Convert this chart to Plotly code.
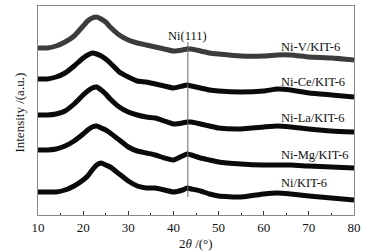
import plotly.graph_objects as go

two_theta = [10, 12, 14, 16, 18, 20, 21, 22, 23, 24, 25, 26, 28, 30, 32, 34, 36, 38,
             40, 42, 43, 44, 46, 48, 50, 55, 60, 63, 66, 70, 75, 80]

ni_v = [167, 167, 169, 173, 179, 189, 194, 197, 198, 196, 193, 188, 180, 175, 172, 170, 168, 166,
        164, 165, 166, 166, 164, 162, 161, 159, 159, 160, 160, 158, 157, 155]
ni_ce = [136, 136, 138, 142, 149, 157, 160, 162, 161, 159, 156, 152, 143, 138, 134, 133, 131, 129,
         127, 129, 130, 129, 127, 125, 124, 123, 124, 126, 125, 122, 120, 118]
ni_la = [100, 100, 101, 104, 111, 120, 124, 127, 128, 125, 121, 116, 108, 103, 100, 98, 97, 94,
         91, 92, 93, 93, 91, 89, 87, 86, 88, 89, 88, 86, 84, 83]
ni_mg = [65, 65, 66, 69, 74, 81, 85, 88, 89, 87, 85, 82, 75, 68, 64, 62, 60, 57,
         55, 59, 61, 60, 57, 55, 53, 51, 50, 50, 50, 49, 48, 47]
ni = [23, 23, 23, 25, 29, 35, 39, 45, 50, 52, 50, 48, 41, 34, 29, 27, 27, 25,
      23, 25, 27, 26, 24, 21, 19, 18, 21, 22, 21, 19, 17, 15]

series_names = ["Ni-V/KIT-6", "Ni-Ce/KIT-6", "Ni-La/KIT-6", "Ni-Mg/KIT-6", "Ni/KIT-6"]
series_values = [ni_v, ni_ce, ni_la, ni_mg, ni]
series_colors = ["#3c3c3c", "#0a0a0a", "#0a0a0a", "#0a0a0a", "#0a0a0a"]
label_y = [168, 133, 97, 60, 32]
label_x = 63.8

peak_pos = 43.2
peak_label = "Ni(111)"
peak_line_y = [18, 173]
peak_label_y = 179

x_ticks = [10, 20, 30, 40, 50, 60, 70, 80]

FONT = "Liberation Serif"

fig = go.Figure()
for name, vals, col in zip(series_names, series_values, series_colors):
    fig.add_trace(go.Scatter(x=two_theta, y=vals, mode="lines", name=name,
                             line=dict(color=col, width=5, shape="spline", smoothing=0.5),
                             showlegend=False))

fig.add_shape(type="line", x0=peak_pos, x1=peak_pos, y0=peak_line_y[0], y1=peak_line_y[1],
              xref="x", yref="y", line=dict(color="#666666", width=1))
fig.add_annotation(x=peak_pos, y=peak_label_y, text=peak_label, showarrow=False,
                   xanchor="center", yanchor="middle",
                   font=dict(family=FONT, size=12.5, color="#111"))
for name, ly in zip(series_names, label_y):
    fig.add_annotation(x=label_x, y=ly, text=name, showarrow=False,
                       xanchor="left", yanchor="middle", xshift=-2,
                       font=dict(family=FONT, size=12.5, color="#111"))

fig.add_annotation(xref="paper", yref="paper", x=0.5, y=-0.134, text="2<i>θ</i> /(°)",
                   showarrow=False, xanchor="center", yanchor="middle",
                   font=dict(family=FONT, size=13, color="#111"))
fig.add_annotation(xref="paper", yref="paper", x=-0.057, y=0.49, text="Intensity /(a.u.)",
                   showarrow=False, xanchor="center", yanchor="middle", textangle=-90,
                   font=dict(family=FONT, size=13, color="#111"))

fig.update_layout(
    width=368, height=252,
    margin=dict(l=38, r=14, t=6, b=37, autoexpand=False),
    paper_bgcolor="white", plot_bgcolor="white",
    font=dict(family=FONT, size=13, color="#111"),
)
fig.update_xaxes(range=[10, 80], tickvals=x_ticks, ticks="inside", ticklen=4,
                 tickcolor="#333", showgrid=False, zeroline=False, automargin=False,
                 showline=True, linecolor="#888", linewidth=1, mirror=True,
                 minor=dict(dtick=5, tick0=5, ticks="inside", ticklen=2.5, tickcolor="#333"),
                 tickfont=dict(family=FONT, size=13, color="#111"))
fig.update_yaxes(range=[0, 209], showticklabels=False, ticks="", showgrid=False, zeroline=False,
                 automargin=False,
                 showline=True, linecolor="#888", linewidth=1, mirror=True)

fig.write_html("out.html", config={"displayModeBar": False},
               post_script="document.body.style.margin='0';document.body.style.overflow='hidden';")
